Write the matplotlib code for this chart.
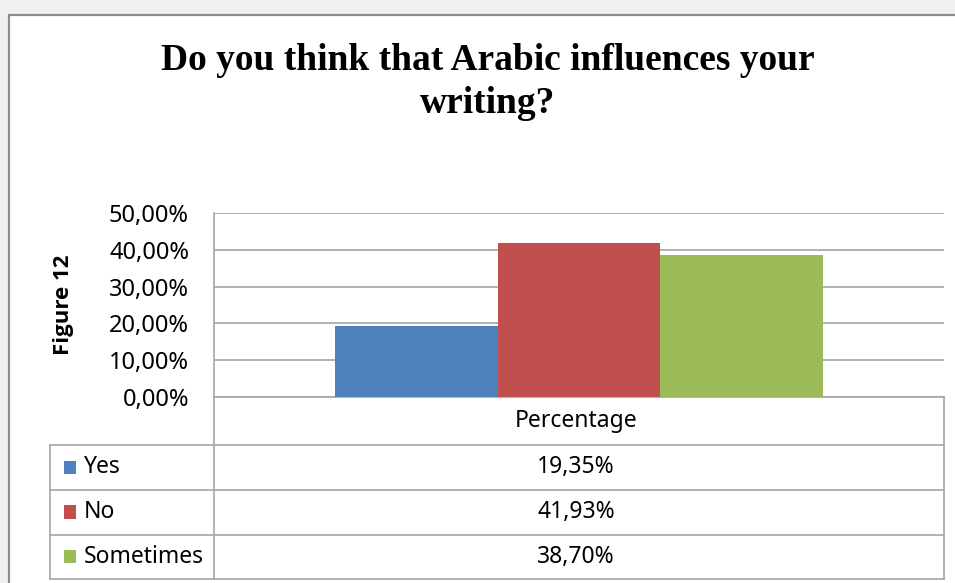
import matplotlib.pyplot as plt
from matplotlib.lines import Line2D
from matplotlib.patches import Rectangle
from matplotlib.ticker import FuncFormatter

# ---------------------------------------------------------------------------
# Data
# ---------------------------------------------------------------------------

TITLE = "Do you think that Arabic influences your\nwriting?"
AXIS_LABEL = "Figure 12"
CATEGORY = "Percentage"
ANSWERS = ["Yes", "No", "Sometimes"]
SHARES = [0.1935, 0.4193, 0.3870]
Y_TICKS = [0.0, 0.1, 0.2, 0.3, 0.4, 0.5]

# ---------------------------------------------------------------------------
# Style
# ---------------------------------------------------------------------------

COLORS = ["#4F81BD", "#C0504D", "#9BBB59"]
GRID = "#A6A6A6"
FRAME = "#8C8C8C"
OUTSIDE = "#F0F0F0"
SANS = "Noto Sans"
BOLD_SANS = "Open Sans"

W, H = 955, 583


def fx(px):
    return px / W


def fy(py):
    return 1 - py / H


def pct(v, _pos=None):
    return f"{v * 100:.2f}%".replace(".", ",")


fig = plt.figure(figsize=(W / 100, H / 100), dpi=100)
fig.patch.set_facecolor(OUTSIDE)

# white chart sheet with grey border, kept behind the axes
fig.patches.append(Rectangle((fx(8.5), fy(H + 10)), fx(W), fy(15) - fy(H + 10),
                             transform=fig.transFigure, facecolor="white",
                             edgecolor=FRAME, linewidth=1.6, zorder=-5))

fig.text(fx(488), fy(82), TITLE, ha="center", va="center",
         family="Liberation Serif", weight="bold", fontsize=27,
         linespacing=1.3)

# plot area
left, right, top, bottom = 214, 944, 213.3, 396.7
ax = fig.add_axes([fx(left), fy(bottom), fx(right - left), fy(top) - fy(bottom)])
ax.set_facecolor("none")

xs = [i - (len(ANSWERS) - 1) / 2 for i in range(len(ANSWERS))]
ax.bar(xs, SHARES, width=1.0, color=COLORS, zorder=3)

ax.set_xlim(-2.245, 2.245)
ax.set_ylim(0, 0.5)
ax.set_yticks(Y_TICKS)
ax.yaxis.set_major_formatter(FuncFormatter(pct))
ax.tick_params(axis="y", length=0, pad=18, labelsize=17, labelfontfamily=SANS)
ax.set_xticks([])
ax.grid(axis="y", color=GRID, linewidth=1.2, zorder=0)
for side in ("top", "right", "left"):
    ax.spines[side].set_visible(False)
ax.spines["bottom"].set_color(GRID)
ax.spines["bottom"].set_linewidth(1.2)

fig.text(fx(63), fy(305), AXIS_LABEL, rotation=90, ha="center", va="center",
         family=BOLD_SANS, weight="bold", fontsize=16)

# data table under the plot
row_lines = [445, 489.5, 534.5, 579]
tbl_left = 50


def hline(x0, x1, y):
    fig.lines.append(Line2D([fx(x0), fx(x1)], [fy(y), fy(y)], transform=fig.transFigure,
                            color=GRID, linewidth=1.2))


def vline(x, y0, y1):
    fig.lines.append(Line2D([fx(x), fx(x)], [fy(y0), fy(y1)], transform=fig.transFigure,
                            color=GRID, linewidth=1.2))


vline(left, top, row_lines[-1])
vline(right, bottom, row_lines[-1])
vline(tbl_left, row_lines[0], row_lines[-1])
hline(left, right, row_lines[0])
for y in row_lines[1:]:
    hline(tbl_left, right, y)
hline(tbl_left, left, row_lines[0])

mid = (left + right) / 2 - 3
fig.text(fx(mid), fy((bottom + row_lines[0]) / 2), CATEGORY,
         ha="center", va="center", family=SANS, fontsize=16.5)

tops = row_lines[:-1]
for name, share, color, y0, y1 in zip(ANSWERS, SHARES, COLORS, tops, row_lines[1:]):
    yc = (y0 + y1) / 2
    fig.patches.append(Rectangle((fx(64), fy(yc + 6.5)), fx(12), fy(yc - 6.5) - fy(yc + 6.5),
                                 transform=fig.transFigure, facecolor=color,
                                 edgecolor="none"))
    fig.text(fx(84), fy(yc), name, ha="left", va="center", family=SANS, fontsize=16.5)
    fig.text(fx(mid), fy(yc), pct(share), ha="center", va="center",
             family=SANS, fontsize=16.5)

fig.savefig("out.png", dpi=100, facecolor=OUTSIDE)
